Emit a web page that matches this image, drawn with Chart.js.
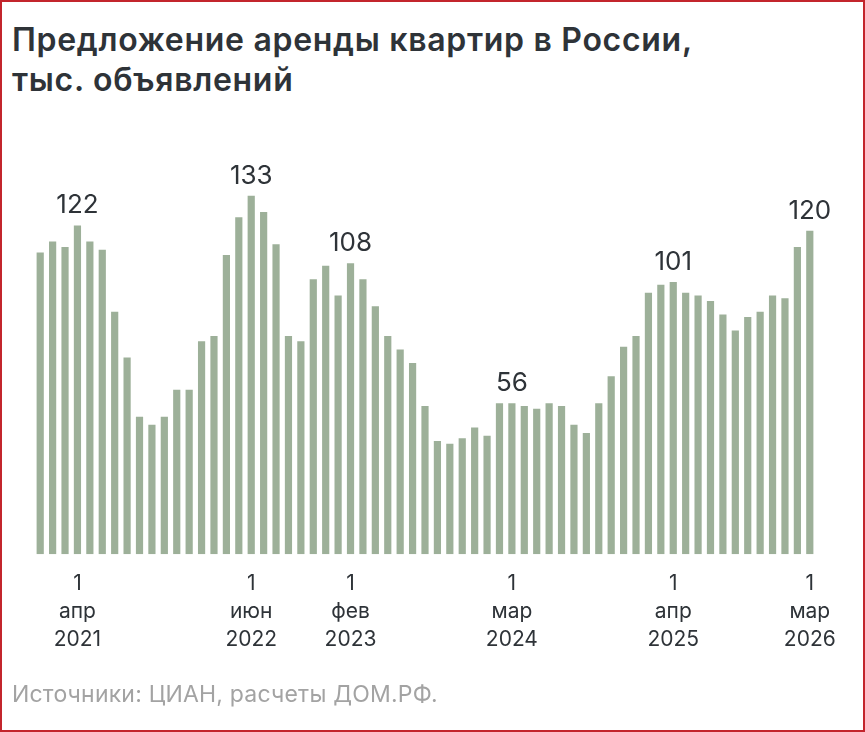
<!DOCTYPE html>
<html lang="ru">
<head>
    <meta charset="UTF-8">
    <title>Предложение аренды квартир в России</title>
    <script src="https://cdn.jsdelivr.net/npm/chart.js"></script>
    <style>
        html, body { margin: 0; padding: 0; background: #fff; }
        .frame {
            position: relative;
            width: 865px;
            height: 732px;
            box-sizing: border-box;
            border: 2px solid #c3252c;
            overflow: hidden;
            font-family: Inter, "Noto Sans", sans-serif;
        }
        .title {
            position: absolute;
            left: 10px;
            top: 18px;
            font-size: 32px;
            font-weight: 600;
            line-height: 40px;
            color: #2e3338;
            letter-spacing: 0.7px;
        }
        .source {
            position: absolute;
            left: 10px;
            top: 678px;
            font-size: 23px;
            color: #a3a3a3;
            letter-spacing: 0.2px;
        }
        .chart-box {
            position: absolute;
            left: -2px;
            top: -2px;
            width: 865px;
            height: 732px;
        }
    </style>
</head>
<body>
<div class="frame">
    <div class="title">Предложение аренды квартир в России,<br>тыс. объявлений</div>
    <div class="chart-box"><canvas id="chart"></canvas></div>
    <div class="source">Источники: ЦИАН, расчеты ДОМ.РФ.</div>
</div>

<script>
    // months from jan 2021 to mar 2026
    const months = [
        '2021-01','2021-02','2021-03','2021-04','2021-05','2021-06','2021-07','2021-08','2021-09','2021-10','2021-11','2021-12',
        '2022-01','2022-02','2022-03','2022-04','2022-05','2022-06','2022-07','2022-08','2022-09','2022-10','2022-11','2022-12',
        '2023-01','2023-02','2023-03','2023-04','2023-05','2023-06','2023-07','2023-08','2023-09','2023-10','2023-11','2023-12',
        '2024-01','2024-02','2024-03','2024-04','2024-05','2024-06','2024-07','2024-08','2024-09','2024-10','2024-11','2024-12',
        '2025-01','2025-02','2025-03','2025-04','2025-05','2025-06','2025-07','2025-08','2025-09','2025-10','2025-11','2025-12',
        '2026-01','2026-02','2026-03'
    ];

    // thousands of listings
    const listings = [
        112, 116, 114, 122, 116, 113, 90, 73, 51, 48, 51, 61,
        61, 79, 81, 111, 125, 133, 127, 115, 81, 79, 102, 107,
        96, 108, 102, 92, 81, 76, 71, 55, 42, 41, 43, 47,
        44, 56, 56, 55, 54, 56, 55, 48, 45, 56, 66, 77,
        81, 97, 100, 101, 97, 96, 94, 89, 83, 88, 90, 96,
        95, 114, 120
    ];

    // axis labels shown only for these months
    const tickLabels = {
        '2021-04': ['1', 'апр', '2021'],
        '2022-06': ['1', 'июн', '2022'],
        '2023-02': ['1', 'фев', '2023'],
        '2024-03': ['1', 'мар', '2024'],
        '2025-04': ['1', 'апр', '2025'],
        '2026-03': ['1', 'мар', '2026']
    };

    // bars with the value written above them
    const labelledMonths = ['2021-04', '2022-06', '2023-02', '2024-03', '2025-04', '2026-03'];

    const valueLabels = {
        id: 'valueLabels',
        afterDatasetsDraw(chart) {
            const ctx = chart.ctx;
            const meta = chart.getDatasetMeta(0);
            ctx.save();
            ctx.font = '400 26px Inter, "Noto Sans", sans-serif';
            ctx.fillStyle = '#2e3338';
            ctx.textAlign = 'center';
            ctx.textBaseline = 'bottom';
            labelledMonths.forEach(m => {
                const i = months.indexOf(m);
                const bar = meta.data[i];
                ctx.fillText(String(listings[i]), bar.x, bar.y - 7);
            });
            ctx.restore();
        }
    };

    new Chart(document.getElementById('chart'), {
        type: 'bar',
        data: {
            labels: months,
            datasets: [{
                data: listings,
                backgroundColor: '#9db099',
                barPercentage: 0.58,
                categoryPercentage: 1.0
            }]
        },
        options: {
            responsive: true,
            maintainAspectRatio: false,
            animation: false,
            layout: { padding: { left: 34, right: 49, top: 150, bottom: 70 } },
            plugins: {
                legend: { display: false },
                tooltip: { enabled: false }
            },
            scales: {
                x: {
                    grid: { display: false },
                    border: { display: false },
                    ticks: {
                        autoSkip: false,
                        maxRotation: 0,
                        padding: 8,
                        color: '#2e3338',
                        font: { family: 'Inter, "Noto Sans", sans-serif', size: 21, lineHeight: 1.33 },
                        callback: (value, index) => tickLabels[months[index]] || ''
                    }
                },
                y: {
                    display: false,
                    min: 0,
                    max: 150
                }
            }
        },
        plugins: [valueLabels]
    });
</script>
</body>
</html>
